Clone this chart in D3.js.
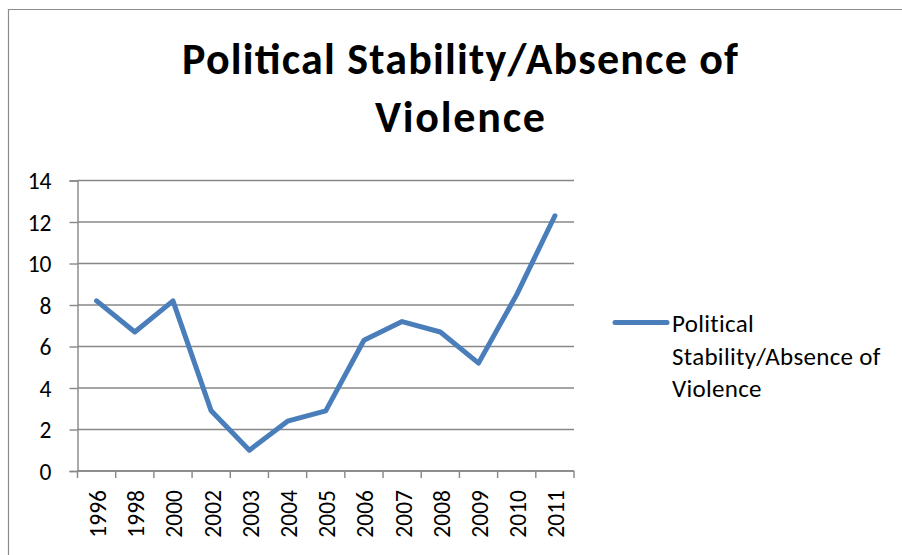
<!DOCTYPE html>
<html>
<head>
<meta charset="utf-8">
<script src="https://cdn.jsdelivr.net/npm/d3@7/dist/d3.min.js"></script>
<style>
  html, body { margin: 0; padding: 0; background: #fff; }
  svg { display: block; }
  text { font-family: Carlito, Lato, "Open Sans", sans-serif; fill: #000; }
</style>
</head>
<body>
<svg id="chart" width="902" height="555"></svg>
<script>
// Chart data
const years = ["1996", "1998", "2000", "2002", "2003", "2004", "2005", "2006", "2007", "2008", "2009", "2010", "2011"];
const values = [8.2, 6.7, 8.2, 2.9, 1.0, 2.4, 2.9, 6.3, 7.2, 6.7, 5.2, 8.5, 12.3];
const yTicks = [0, 2, 4, 6, 8, 10, 12, 14];
const titleLines = ["Political Stability/Absence of", "Violence"];
const titleWidths = [556, 170];
const seriesName = ["Political", "Stability/Absence of", "Violence"];

const svg = d3.select("#chart");
const lineColor = "#4a7ebb";
const gridColor = "#878787";
const fontFamily = "Carlito, Lato, 'Open Sans', sans-serif";

// Chart frame (top and left edges visible)
svg.append("path")
  .attr("d", "M8.5,560 V9.5 H910")
  .attr("fill", "none")
  .attr("stroke", "#8c8c8c")
  .attr("stroke-width", 1.2);

// Plot area
const plot = { left: 77.5, right: 574, top: 180.5, bottom: 471 };

const x = d3.scaleBand().domain(years).range([plot.left, plot.right]).paddingInner(0).paddingOuter(0);
const y = d3.scaleLinear().domain([0, 14]).range([plot.bottom, plot.top]);

// Horizontal gridlines
svg.append("g")
  .selectAll("line")
  .data(yTicks)
  .join("line")
  .attr("x1", plot.left)
  .attr("x2", plot.right)
  .attr("y1", d => y(d))
  .attr("y2", d => y(d))
  .attr("stroke", gridColor)
  .attr("stroke-width", 1.4);

// Y axis
const yAxis = svg.append("g")
  .attr("transform", `translate(${plot.left},0)`)
  .call(d3.axisLeft(y).tickValues(yTicks).tickSize(8).tickPadding(18).tickFormat(d3.format("d")));
yAxis.select(".domain").attr("stroke", gridColor).attr("stroke-width", 1.4);
yAxis.selectAll(".tick line").attr("stroke", gridColor).attr("stroke-width", 1.4);
yAxis.selectAll(".tick text")
  .attr("font-size", 23.5)
  .attr("font-family", fontFamily)
  .attr("fill", "#000")
  .attr("dy", "0.36em");

// X axis: tick marks at category boundaries
const xAxisG = svg.append("g").attr("transform", `translate(0,${plot.bottom})`);
xAxisG.append("line")
  .attr("x1", plot.left).attr("x2", plot.right)
  .attr("stroke", gridColor).attr("stroke-width", 1.4);
const bounds = years.map(d => x(d)).concat([x(years[years.length - 1]) + x.bandwidth()]);
xAxisG.selectAll("line.tk")
  .data(bounds)
  .join("line")
  .attr("class", "tk")
  .attr("x1", d => d).attr("x2", d => d)
  .attr("y1", 0).attr("y2", 7)
  .attr("stroke", gridColor).attr("stroke-width", 1.4);
xAxisG.selectAll("text")
  .data(years)
  .join("text")
  .attr("transform", d => `translate(${x(d) + x.bandwidth() / 2 + 9.5},${19}) rotate(-90)`)
  .attr("text-anchor", "end")
  .attr("font-size", 23.5)
  .text(d => d);

// Series line
const line = d3.line()
  .x((d, i) => x(years[i]) + x.bandwidth() / 2)
  .y(d => y(d));
svg.append("path")
  .datum(values)
  .attr("d", line)
  .attr("fill", "none")
  .attr("stroke", lineColor)
  .attr("stroke-width", 5)
  .attr("stroke-linejoin", "round")
  .attr("stroke-linecap", "round");

// Title
const title = svg.append("g");
title.selectAll("text")
  .data(titleLines)
  .join("text")
  .attr("x", 460)
  .attr("y", (d, i) => 74 + i * 58)
  .attr("text-anchor", "middle")
  .attr("font-weight", "bold")
  .attr("font-size", 44)
  .attr("textLength", (d, i) => titleWidths[i])
  .attr("lengthAdjust", "spacing")
  .text(d => d);

// Legend
const legend = svg.append("g");
legend.append("line")
  .attr("x1", 615).attr("x2", 667)
  .attr("y1", 322.5).attr("y2", 322.5)
  .attr("stroke", lineColor)
  .attr("stroke-width", 5)
  .attr("stroke-linecap", "round");
legend.selectAll("text")
  .data(seriesName)
  .join("text")
  .attr("x", 672)
  .attr("y", (d, i) => 332 + i * 32.5)
  .attr("font-size", 25)
  .attr("letter-spacing", 0.3)
  .text(d => d);
</script>
</body>
</html>
